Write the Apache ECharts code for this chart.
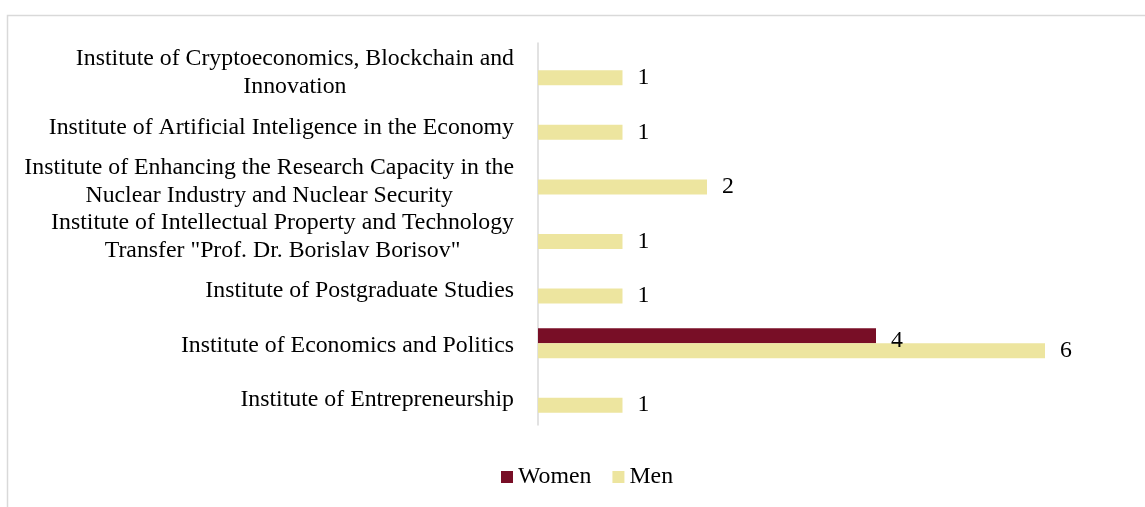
<!DOCTYPE html>
<html>
<head>
<meta charset="utf-8">
<script src="https://cdn.jsdelivr.net/npm/echarts@6/dist/echarts.min.js"></script>
<style>
  html, body { margin: 0; padding: 0; background: #fff; }
  #chart { width: 1145px; height: 507px; }
</style>
</head>
<body>
<div id="chart"></div>
<script>
// Institutes, listed bottom to top as on the category axis
const institutes = [
  'Institute of Entrepreneurship',
  'Institute of Economics and Politics',
  'Institute of Postgraduate Studies',
  'Institute of Intellectual Property and Technology Transfer "Prof. Dr. Borislav Borisov"',
  'Institute of Enhancing the Research Capacity in the Nuclear Industry and Nuclear Security',
  'Institute of Artificial Inteligence in the Economy',
  'Institute of Cryptoeconomics, Blockchain and Innovation'
];
const women = [null, 4, null, null, null, null, null];
const men = [1, 6, 1, 1, 2, 1, 1];
const seriesNames = ['Women', 'Men'];

const FONT = '"Liberation Serif", "Times New Roman", Times, serif';
const FS = 23.8;
const LABEL_MAX_W = 500;

// word-wrap long institute names using real text metrics
const ctx = document.createElement('canvas').getContext('2d');
ctx.font = FS + 'px ' + FONT;
function wrap(text, maxW) {
  const words = text.split(' ');
  const lines = [];
  let cur = '';
  for (const w of words) {
    const t = cur ? cur + ' ' + w : w;
    if (cur && ctx.measureText(t).width > maxW) {
      lines.push(cur);
      cur = w;
    } else {
      cur = t;
    }
  }
  if (cur) lines.push(cur);
  return lines;
}

const chart = echarts.init(document.getElementById('chart'), null, { renderer: 'canvas' });

const valueLabel = {
  show: true,
  position: 'right',
  distance: 15,
  fontFamily: FONT,
  fontSize: FS,
  color: '#000'
};

chart.setOption({
  animation: false,
  backgroundColor: '#fff',
  graphic: [{
    type: 'rect',
    left: 5,
    top: 13,
    shape: { width: 1160, height: 520 },
    style: { fill: 'none', stroke: '#d9d9d9', lineWidth: 1.5 },
    silent: true,
    z: -10
  }],
  grid: { left: 538, right: 15.5, top: 43, bottom: 82, containLabel: false },
  legend: {
    data: seriesNames,
    left: 496,
    top: 460,
    icon: 'rect',
    itemWidth: 12,
    itemHeight: 12,
    itemGap: 21,
    textStyle: { fontFamily: FONT, fontSize: FS, color: '#000' }
  },
  xAxis: {
    type: 'value',
    min: 0,
    max: 7,
    show: false,
    splitLine: { show: false }
  },
  yAxis: {
    type: 'category',
    data: institutes,
    axisLine: { show: true, lineStyle: { color: '#d9d9d9', width: 1.5 } },
    axisTick: { show: false },
    axisLabel: {
      margin: 24,
      align: 'right',
      padding: [5, 0, 0, 0],
      formatter: function (value) {
        return wrap(value, LABEL_MAX_W).map(l => '{c|' + l + '}').join('\n');
      },
      rich: {
        c: {
          align: 'center',
          fontFamily: FONT,
          fontSize: FS,
          lineHeight: 28,
          color: '#000'
        }
      }
    }
  },
  series: [
    {
      name: 'Women',
      type: 'bar',
      data: women,
      barWidth: 15,
      barGap: '0%',
      itemStyle: { color: '#780e26' },
      label: Object.assign({}, valueLabel, { offset: [0, 5] })
    },
    {
      name: 'Men',
      type: 'bar',
      data: men,
      barWidth: 15,
      barGap: '0%',
      itemStyle: { color: '#ede59f' },
      label: valueLabel
    }
  ]
});
</script>
</body>
</html>
